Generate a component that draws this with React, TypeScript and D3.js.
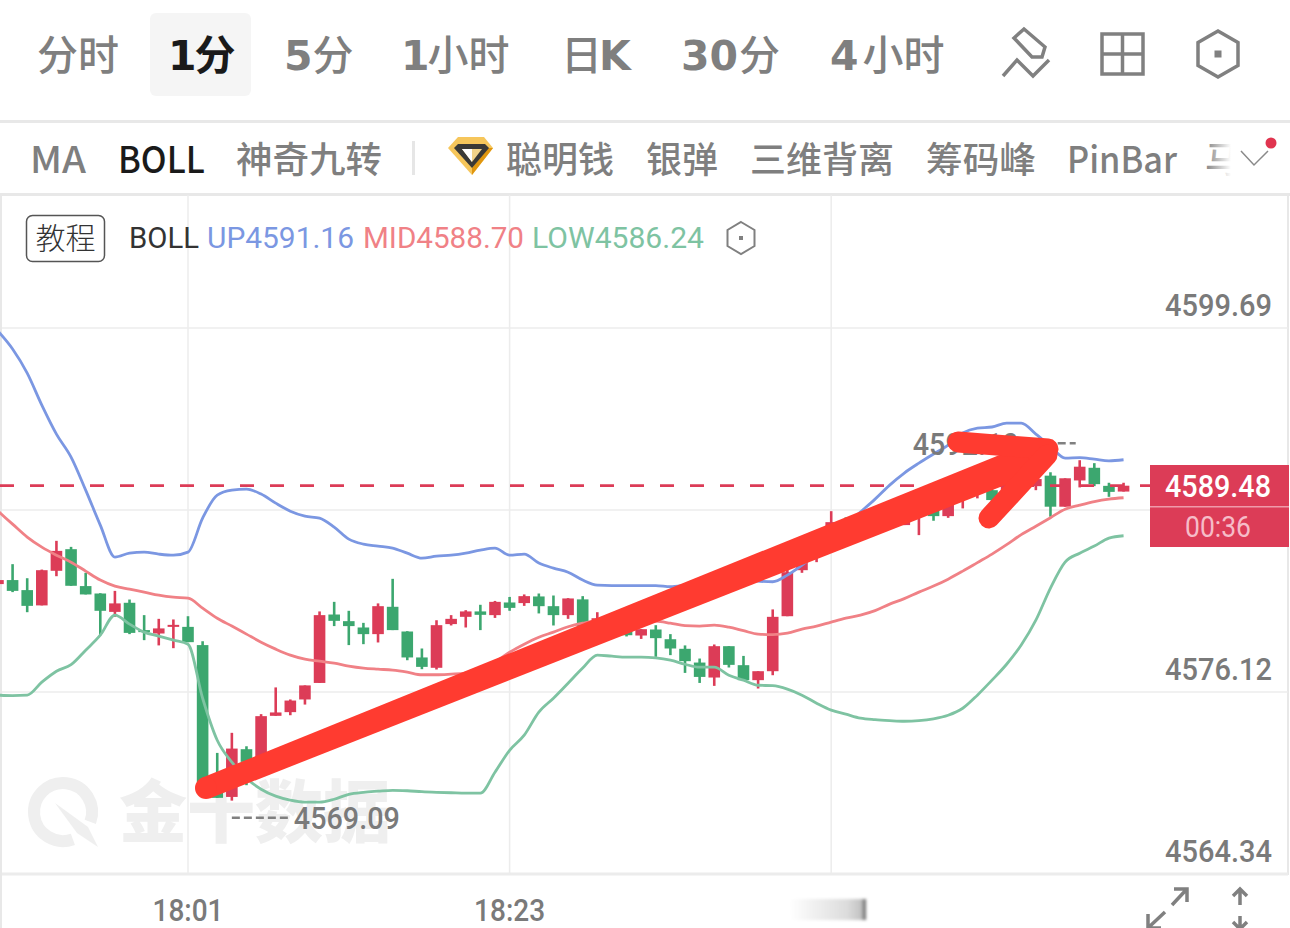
import React, { useEffect, useRef } from 'react';
import * as d3 from 'd3';

// first candle sits one step left of the canvas, 18:01 is candle 13
const timeLabels = [
  { index: 13, label: '18:01' },
  { index: 35, label: '18:23' },
  { index: 57, label: '' },
];
const priceTicks = [4599.69, 4587.9, 4576.12, 4564.34];
const priceLabels = ['4599.69', '', '4576.12', '4564.34'];
const currentPrice = 4589.48;
const lowMark = { index: 16, price: 4569.09, label: '4569.09' };
const highMark = { index: 74, price: 4592.1, label: '4592.10' };

// open, close, high, low
const candles: [number, number, number, number][] = [
  [4583.11, 4583.37, 4583.5, 4582.98],
  [4583.37, 4582.67, 4584.4, 4582.59],
  [4582.72, 4581.7, 4583.49, 4581.29],
  [4581.73, 4584.01, 4584.05, 4581.73],
  [4583.97, 4585.26, 4585.91, 4583.62],
  [4585.37, 4583.0, 4585.52, 4583.0],
  [4582.98, 4582.44, 4583.84, 4582.44],
  [4582.5, 4581.38, 4582.52, 4579.8],
  [4581.31, 4581.86, 4582.67, 4580.99],
  [4581.9, 4579.95, 4582.11, 4579.87],
  [4580.13, 4580.0, 4581.1, 4579.48],
  [4579.91, 4580.24, 4580.86, 4579.14],
  [4580.34, 4580.47, 4580.82, 4578.96],
  [4580.34, 4579.35, 4581.03, 4579.35],
  [4579.16, 4570.28, 4579.41, 4570.28],
  [4570.74, 4569.27, 4572.18, 4569.27],
  [4569.33, 4572.46, 4573.48, 4569.09],
  [4572.42, 4571.6, 4572.61, 4570.09],
  [4571.32, 4574.56, 4574.69, 4571.32],
  [4574.58, 4574.8, 4576.42, 4574.58],
  [4574.82, 4575.57, 4575.64, 4574.62],
  [4575.64, 4576.55, 4576.55, 4575.31],
  [4576.71, 4581.1, 4581.34, 4576.71],
  [4581.14, 4580.73, 4581.96, 4580.39],
  [4580.71, 4580.39, 4581.38, 4579.16],
  [4580.3, 4579.87, 4580.6, 4579.22],
  [4579.87, 4581.68, 4581.86, 4579.33],
  [4581.64, 4580.13, 4583.45, 4580.13],
  [4580.04, 4578.36, 4580.06, 4578.18],
  [4578.36, 4577.75, 4578.94, 4577.6],
  [4577.69, 4580.45, 4580.77, 4577.58],
  [4580.52, 4580.86, 4581.1, 4580.43],
  [4580.99, 4581.34, 4581.42, 4580.3],
  [4581.34, 4581.12, 4581.77, 4580.13],
  [4581.1, 4581.96, 4582.02, 4580.92],
  [4581.92, 4581.57, 4582.28, 4581.38],
  [4581.88, 4582.33, 4582.44, 4581.7],
  [4582.31, 4581.68, 4582.5, 4581.21],
  [4581.68, 4581.1, 4582.37, 4580.43],
  [4581.1, 4582.18, 4582.2, 4580.86],
  [4582.12, 4580.3, 4582.33, 4580.24],
  [4580.26, 4580.9, 4581.29, 4579.87],
  [4580.58, 4580.13, 4580.77, 4579.87],
  [4580.45, 4579.8, 4580.58, 4579.72],
  [4579.78, 4580.19, 4580.19, 4579.56],
  [4580.17, 4579.61, 4580.45, 4578.4],
  [4579.54, 4578.94, 4579.87, 4578.51],
  [4578.92, 4578.12, 4579.14, 4577.36],
  [4578.03, 4577.1, 4578.29, 4576.71],
  [4577.06, 4579.09, 4579.2, 4576.52],
  [4579.09, 4577.88, 4579.09, 4577.71],
  [4577.86, 4576.89, 4578.46, 4576.89],
  [4576.89, 4577.47, 4577.47, 4576.35],
  [4577.47, 4580.99, 4581.47, 4577.21],
  [4581.03, 4583.88, 4584.47, 4581.03],
  [4584.01, 4584.55, 4584.87, 4583.84],
  [4584.99, 4585.63, 4585.96, 4584.53],
  [4586.15, 4587.12, 4587.83, 4585.96],
  [4587.06, 4586.41, 4587.43, 4586.22],
  [4586.47, 4587.25, 4587.57, 4586.01],
  [4587.38, 4586.6, 4587.57, 4586.47],
  [4587.57, 4586.93, 4587.9, 4586.93],
  [4586.93, 4588.22, 4588.55, 4586.93],
  [4587.57, 4587.9, 4588.55, 4586.28],
  [4588.16, 4587.51, 4588.55, 4587.21],
  [4587.51, 4588.76, 4588.93, 4587.4],
  [4588.74, 4589.06, 4589.32, 4588.01],
  [4589.13, 4589.32, 4589.52, 4588.66],
  [4589.19, 4588.55, 4589.47, 4588.44],
  [4589.19, 4589.65, 4589.91, 4588.89],
  [4589.84, 4589.19, 4590.1, 4589.06],
  [4589.45, 4589.91, 4590.49, 4589.19],
  [4590.13, 4588.12, 4590.35, 4587.47],
  [4588.12, 4589.96, 4589.96, 4588.12],
  [4589.82, 4590.71, 4591.13, 4589.37],
  [4590.64, 4589.58, 4590.94, 4589.45],
  [4589.47, 4589.08, 4589.67, 4588.76],
  [4589.1, 4589.48, 4589.67, 4589.1],
];

const bollUp = [
  4599.49, 4598.33, 4596.77, 4594.7, 4592.82, 4591.33, 4589.19, 4586.93, 4584.86, 4585.11, 4585.18, 4585.05, 4584.98,
  4585.18, 4587.38, 4588.87, 4589.19, 4589.26, 4588.94, 4588.35, 4587.83, 4587.51, 4587.38, 4586.8, 4586.02, 4585.7,
  4585.57, 4585.44, 4585.11, 4584.79, 4584.92, 4584.98, 4585.11, 4585.31, 4585.44, 4584.98, 4585.05, 4584.47, 4584.14,
  4583.88, 4583.37, 4583.04, 4583.01, 4583.01, 4583.01, 4583.01, 4582.94, 4583.04, 4583.17, 4583.3, 4583.37, 4583.37,
  4583.3, 4583.26, 4583.69, 4584.34, 4585.11, 4586.15, 4586.93, 4587.77, 4588.61, 4589.52, 4590.3, 4590.94, 4591.53,
  4592.11, 4592.89, 4593.21, 4593.28, 4593.53, 4593.53, 4592.82, 4592.04, 4591.27, 4591.3, 4591.2, 4591.09, 4591.16,
];

const bollMid = [
  4587.83, 4586.99, 4586.15, 4585.5, 4584.98, 4584.53, 4583.95, 4583.37, 4582.98, 4582.78, 4582.59, 4582.39, 4582.26,
  4582.2, 4581.55, 4580.9, 4580.39, 4579.87, 4579.35, 4578.9, 4578.51, 4578.25, 4578.12, 4577.99, 4577.8, 4577.67,
  4577.6, 4577.54, 4577.41, 4577.24, 4577.24, 4577.28, 4577.34, 4577.54, 4578.05, 4578.7, 4579.22, 4579.67, 4580.0,
  4580.35, 4580.58, 4580.73, 4580.73, 4580.73, 4580.73, 4580.71, 4580.58, 4580.42, 4580.39, 4580.45, 4580.32, 4580.09,
  4579.87, 4579.84, 4579.93, 4580.19, 4580.39, 4580.65, 4580.9, 4581.1, 4581.39, 4581.81, 4582.17, 4582.59, 4582.98,
  4583.43, 4583.95, 4584.5, 4585.05, 4585.66, 4586.31, 4586.86, 4587.41, 4587.96, 4588.22, 4588.45, 4588.61, 4588.7,
];

const bollLow = [
  4575.92, 4575.89, 4575.92, 4576.76, 4577.47, 4577.89, 4578.83, 4579.8, 4581.1, 4580.52, 4580.0, 4579.74, 4579.48,
  4579.22, 4575.72, 4573.0, 4571.58, 4570.54, 4569.83, 4569.38, 4569.12, 4568.99, 4568.99, 4569.18, 4569.5, 4569.63,
  4569.7, 4569.76, 4569.73, 4569.67, 4569.63, 4569.6, 4569.57, 4569.57, 4570.93, 4572.35, 4573.33, 4574.82, 4575.72,
  4576.69, 4577.67, 4578.51, 4578.44, 4578.38, 4578.38, 4578.33, 4578.18, 4577.92, 4577.73, 4577.73, 4577.21, 4576.89,
  4576.56, 4576.53, 4576.31, 4575.92, 4575.4, 4574.95, 4574.69, 4574.43, 4574.33, 4574.27, 4574.23, 4574.27, 4574.39,
  4574.62, 4575.07, 4575.92, 4576.89, 4577.92, 4579.16, 4580.77, 4582.85, 4584.53, 4585.11, 4585.57, 4586.09, 4586.24,
];

const periodTabs = [
  { num: '', text: '分时', x: 37, dx: 0 },
  { num: '1', text: '分', x: 168, dx: -2, active: true },
  { num: '5', text: '分', x: 284, dx: 0 },
  { num: '1', text: '小时', x: 401, dx: -2 },
  { num: '', text: '日', x: 561, dx: 0, tail: 'K' },
  { num: '30', text: '分', x: 681, dx: 1 },
  { num: '4', text: '小时', x: 830, dx: 4 },
];
const indicatorTabs = [
  { text: 'MA', x: 30, w: 56 },
  { text: 'BOLL', x: 118, w: 87, active: true },
  { text: '神奇九转', x: 236, w: 146 },
  { text: '聪明钱', x: 506, w: 108 },
  { text: '银弹', x: 646, w: 72 },
  { text: '三维背离', x: 750, w: 144 },
  { text: '筹码峰', x: 926, w: 110 },
  { text: 'PinBar', x: 1067, w: 110 },
];

const RED = '#dc3c57';
const GREEN = '#3ca76f';
const GRID = '#ececec';
const CJK = '"Noto Sans CJK SC", sans-serif';
const NUM = 'Roboto, sans-serif';
const HEAVY = '"DejaVu Sans", sans-serif';

const x = d3.scaleLinear().domain([13, 35]).range([188, 509.6]);
const y = d3.scaleLinear().domain([4564.34, 4599.69]).range([874, 328]);

const Hexagon: React.FC<{ cx: number; cy: number; w: number; h: number; sw: number }> = ({ cx, cy, w, h, sw }) => (
  <g stroke="#808080" fill="none" strokeWidth={sw}>
    <path
      d={`M${cx} ${cy - h / 2}L${cx + w / 2} ${cy - h / 4}V${cy + h / 4}L${cx} ${cy + h / 2}L${cx - w / 2} ${cy + h / 4}V${cy - h / 4}Z`}
    />
    <rect x={cx - sw} y={cy - sw} width={sw * 2} height={sw * 2} fill="#808080" stroke="none" />
  </g>
);

export default function App() {
  const plotRef = useRef<SVGGElement>(null);

  useEffect(() => {
    if (!plotRef.current) return;
    const plot = d3.select(plotRef.current);
    plot.selectAll('*').remove();

    // grid
    plot
      .append('g')
      .selectAll('line')
      .data(priceTicks)
      .join('line')
      .attr('x1', 2)
      .attr('x2', 1288)
      .attr('y1', (d) => y(d))
      .attr('y2', (d) => y(d))
      .attr('stroke', GRID)
      .attr('stroke-width', (d) => (d === priceTicks[3] ? 3 : 1.5));
    plot
      .append('g')
      .selectAll('line')
      .data(timeLabels)
      .join('line')
      .attr('x1', (d) => x(d.index))
      .attr('x2', (d) => x(d.index))
      .attr('y1', 195)
      .attr('y2', 874)
      .attr('stroke', GRID)
      .attr('stroke-width', 1.5);

    // watermark
    const mark = plot.append('g').attr('fill', '#efefef');
    mark
      .append('path')
      .attr('d', 'M72.9 839.3A29 29 0 1 1 90.3 821.9')
      .attr('fill', 'none')
      .attr('stroke', '#efefef')
      .attr('stroke-width', 12);
    mark.append('path').attr('d', 'M55 803L88 827L98 847L77 833Z');
    mark
      .append('text')
      .attr('x', 119)
      .attr('y', 837)
      .attr('font-family', CJK)
      .attr('font-weight', 900)
      .attr('font-size', 68)
      .text('金十数据');

    // candles
    const bars = plot.append('g').selectAll('g').data(candles).join('g');
    bars
      .append('line')
      .attr('x1', (_, i) => x(i))
      .attr('x2', (_, i) => x(i))
      .attr('y1', (d) => y(d[2]))
      .attr('y2', (d) => y(d[3]))
      .attr('stroke', (d) => (d[1] >= d[0] ? RED : GREEN))
      .attr('stroke-width', 2.6);
    bars
      .append('rect')
      .attr('x', (_, i) => x(i) - 5.8)
      .attr('width', 11.6)
      .attr('y', (d) => y(Math.max(d[0], d[1])))
      .attr('height', (d) => Math.max(2, Math.abs(y(d[0]) - y(d[1]))))
      .attr('fill', (d) => (d[1] >= d[0] ? RED : GREEN));

    // boll bands
    const line = d3
      .line<number>()
      .x((_, i) => x(i))
      .y((d) => y(d))
      .curve(d3.curveMonotoneX);
    [
      { values: bollUp, color: '#7b97e2' },
      { values: bollMid, color: '#f08186' },
      { values: bollLow, color: '#7ec3a2' },
    ].forEach((s) => {
      plot
        .append('path')
        .attr('d', line(s.values))
        .attr('fill', 'none')
        .attr('stroke', s.color)
        .attr('stroke-width', 2.8);
    });

    // price axis labels
    plot
      .append('g')
      .selectAll('text')
      .data(priceTicks.filter((_, i) => priceLabels[i]))
      .join('text')
      .attr('x', 1272)
      .attr('y', (d) => y(d) - 12)
      .attr('text-anchor', 'end')
      .attr('font-family', NUM)
      .attr('font-size', 32)
      .attr('font-weight', 500)
      .attr('fill', '#7a7a7a')
      .attr('textLength', 107)
      .attr('lengthAdjust', 'spacingAndGlyphs')
      .text((d) => d.toFixed(2));

    // time labels
    plot
      .append('g')
      .selectAll('text')
      .data(timeLabels.filter((d) => d.label))
      .join('text')
      .attr('x', (d) => x(d.index))
      .attr('y', 921)
      .attr('text-anchor', 'middle')
      .attr('font-family', NUM)
      .attr('font-size', 32)
      .attr('font-weight', 500)
      .attr('fill', '#7a7a7a')
      .attr('textLength', 71)
      .attr('lengthAdjust', 'spacingAndGlyphs')
      .text((d) => d.label);

    // high / low callouts
    plot
      .append('line')
      .attr('x1', x(lowMark.index))
      .attr('x2', x(lowMark.index) + 58)
      .attr('y1', y(lowMark.price) + 17)
      .attr('y2', y(lowMark.price) + 17)
      .attr('stroke', '#808080')
      .attr('stroke-width', 2.5)
      .attr('stroke-dasharray', '8 4');
    plot
      .append('text')
      .attr('x', x(lowMark.index) + 62)
      .attr('y', y(lowMark.price) + 28)
      .attr('font-family', NUM)
      .attr('font-size', 32)
      .attr('font-weight', 500)
      .attr('fill', '#7a7a7a')
      .attr('textLength', 106)
      .attr('lengthAdjust', 'spacingAndGlyphs')
      .text(lowMark.label);
    plot
      .append('line')
      .attr('x1', x(highMark.index) - 58)
      .attr('x2', x(highMark.index) - 4)
      .attr('y1', y(highMark.price) - 2)
      .attr('y2', y(highMark.price) - 2)
      .attr('stroke', '#808080')
      .attr('stroke-width', 2.5)
      .attr('stroke-dasharray', '8 4');
    plot
      .append('text')
      .attr('x', x(highMark.index) - 61)
      .attr('y', y(highMark.price) + 10)
      .attr('text-anchor', 'end')
      .attr('font-family', NUM)
      .attr('font-size', 32)
      .attr('font-weight', 500)
      .attr('fill', '#7a7a7a')
      .attr('textLength', 106)
      .attr('lengthAdjust', 'spacingAndGlyphs')
      .text(highMark.label);

    // current price
    plot
      .append('line')
      .attr('x1', 0)
      .attr('x2', 1150)
      .attr('y1', y(currentPrice))
      .attr('y2', y(currentPrice))
      .attr('stroke', RED)
      .attr('stroke-width', 2.8)
      .attr('stroke-dasharray', '14 16');

    return () => {
      plot.selectAll('*').remove();
    };
  }, []);

  return (
    <svg
      width={1290}
      height={928}
      viewBox="0 0 1290 928"
      style={{ position: 'absolute', left: 0, top: 0, background: '#fff', display: 'block' }}
    >
      <defs>
        <linearGradient id="fade" x1="0" x2="1">
          <stop offset="0" stopColor="#fff" stopOpacity={0} />
          <stop offset="1" stopColor="#fff" />
        </linearGradient>
        <linearGradient id="smudge" x1="0" x2="1">
          <stop offset="0" stopColor="#fff" />
          <stop offset="0.75" stopColor="#dcdcdc" />
          <stop offset="0.93" stopColor="#c4c4c4" />
          <stop offset="1" stopColor="#5f5f5f" />
        </linearGradient>
        <filter id="blur">
          <feGaussianBlur stdDeviation="1.6" />
        </filter>
      </defs>

      {/* period tabs */}
      <rect x={150} y={13} width={101} height={83} rx={6} fill="#f5f5f5" />
      {periodTabs.map((t) => (
        <text key={t.x} x={t.x} y={70} fontFamily={CJK} fontSize={41} fill={t.active ? '#1a1a1a' : '#7f7f7f'}>
          {t.num && (
            <tspan fontFamily={HEAVY} fontWeight={700}>
              {t.num}
            </tspan>
          )}
          <tspan dx={t.dx} fontWeight={t.active ? 700 : 500}>
            {t.text}
          </tspan>
          {t.tail && (
            <tspan dx={-3} fontFamily={HEAVY} fontWeight={700}>
              {t.tail}
            </tspan>
          )}
        </text>
      ))}
      <g stroke="#808080" strokeWidth={3.5} fill="none">
        <path d="M1024 29L1045 47L1042 57L1032 57L1014 38Z" />
        <path d="M1003 76L1017 60L1033 76L1049 60" />
        <rect x={1102} y={34} width={41} height={40} />
        <path d="M1122.5 34V74M1102 54H1143" />
      </g>
      <Hexagon cx={1218} cy={54} w={40} h={46} sw={3.5} />
      <rect x={0} y={120} width={1290} height={3} fill="#e8e8e8" />

      {/* indicator tabs */}
      {indicatorTabs.map((t) => (
        <text
          key={t.text}
          x={t.x}
          y={173}
          fontFamily={CJK}
          fontSize={36}
          fontWeight={500}
          fill={t.active ? '#1a1a1a' : '#7f7f7f'}
          textLength={t.w}
          lengthAdjust="spacingAndGlyphs"
        >
          {t.text}
        </text>
      ))}
      <rect x={412} y={141} width={3} height={34} fill="#e6e6e6" />
      <path d="M448 148L458 137H484L493 148L472 175Z" fill="#f6c65b" />
      <path d="M493 148L472 175V168L488 148Z" fill="#e0960f" />
      <path d="M454 148L458 144H485L489 148L472 168Z" fill="#3a3936" />
      <path d="M462 149H482L472 162Z" fill="#f2d389" />
      <path d="M462 149H472V162Z" fill="#fff" />
      <text x={1205} y={173} fontFamily={CJK} fontSize={36} fontWeight={500} fill="#8a8a8a">
        马
      </text>
      <rect x={1207} y={140} width={24} height={44} fill="url(#fade)" />
      <rect x={1231} y={140} width={59} height={44} fill="#fff" />
      <path d="M1241 151L1254 165L1268 151" stroke="#8a8a8a" strokeWidth={1.5} fill="none" />
      <circle cx={1271} cy={143} r={5.5} fill="#e0344f" />
      <rect x={0} y={193} width={1290} height={3} fill="#e8e8e8" />
      <rect x={0} y={195} width={2} height={733} fill="#e8e8e8" />
      <rect x={1287} y={195} width={2} height={680} fill="#e8e8e8" />

      <g ref={plotRef} />

      {/* legend */}
      <rect x={26.5} y={215.5} width={78} height={46} rx={6} fill="#fff" stroke="#555" strokeWidth={1.5} />
      <text x={65.5} y={249} textAnchor="middle" fontFamily={CJK} fontSize={30} fontWeight={300} fill="#333">
        教程
      </text>
      <text x={129} y={248} fontFamily={NUM} fontSize={29} fontWeight={400} fill="#333" textLength={70} lengthAdjust="spacingAndGlyphs">
        BOLL
      </text>
      <text x={207} y={248} fontFamily={NUM} fontSize={29} fontWeight={400} fill="#7b97e2" textLength={147} lengthAdjust="spacingAndGlyphs">
        UP4591.16
      </text>
      <text x={363} y={248} fontFamily={NUM} fontSize={29} fontWeight={400} fill="#f08186" textLength={161} lengthAdjust="spacingAndGlyphs">
        MID4588.70
      </text>
      <text x={532} y={248} fontFamily={NUM} fontSize={29} fontWeight={400} fill="#7ec3a2" textLength={172} lengthAdjust="spacingAndGlyphs">
        LOW4586.24
      </text>
      <Hexagon cx={741} cy={238} w={27} h={32} sw={2} />

      {/* current price tag */}
      <rect x={1150} y={465} width={139} height={82} fill={RED} />
      <rect x={1150} y={506} width={139} height={1.5} fill="#ef9aaa" />
      <text x={1218} y={497} textAnchor="middle" fontFamily={NUM} fontSize={32} fontWeight={500} fill="#fff" textLength={106} lengthAdjust="spacingAndGlyphs">
        {currentPrice.toFixed(2)}
      </text>
      <text x={1218} y={537} textAnchor="middle" fontFamily={NUM} fontSize={30} fill="#f6bcc8" textLength={66} lengthAdjust="spacingAndGlyphs">
        00:36
      </text>

      {/* bottom bar */}
      <rect x={790} y={899} width={76} height={21} fill="url(#smudge)" filter="url(#blur)" />
      <g stroke="#808080" strokeWidth={3.5} fill="none">
        <path d="M1172 905L1186 890M1174 889H1187V902" />
        <path d="M1165 912L1149 927M1148 914V928H1161" />
        <path d="M1240 905V889M1233 896L1240 889L1247 896" />
        <path d="M1240 916V928M1233 922L1240 929L1247 922" />
      </g>

      {/* hand drawn arrow on top of everything */}
      <g fill="#ff3b30">
        <path d="M201.9 777.8L1034.4 440.9L1045.6 469.1L210.1 798.2Z" />
        <circle cx={206} cy={788} r={11} />
      </g>
      <g stroke="#ff3b30" fill="none" strokeLinecap="round" strokeLinejoin="round">
        <path d="M958 442L1048 449" strokeWidth={21} />
        <path d="M989 518L1047 455" strokeWidth={21} />
      </g>
    </svg>
  );
}
